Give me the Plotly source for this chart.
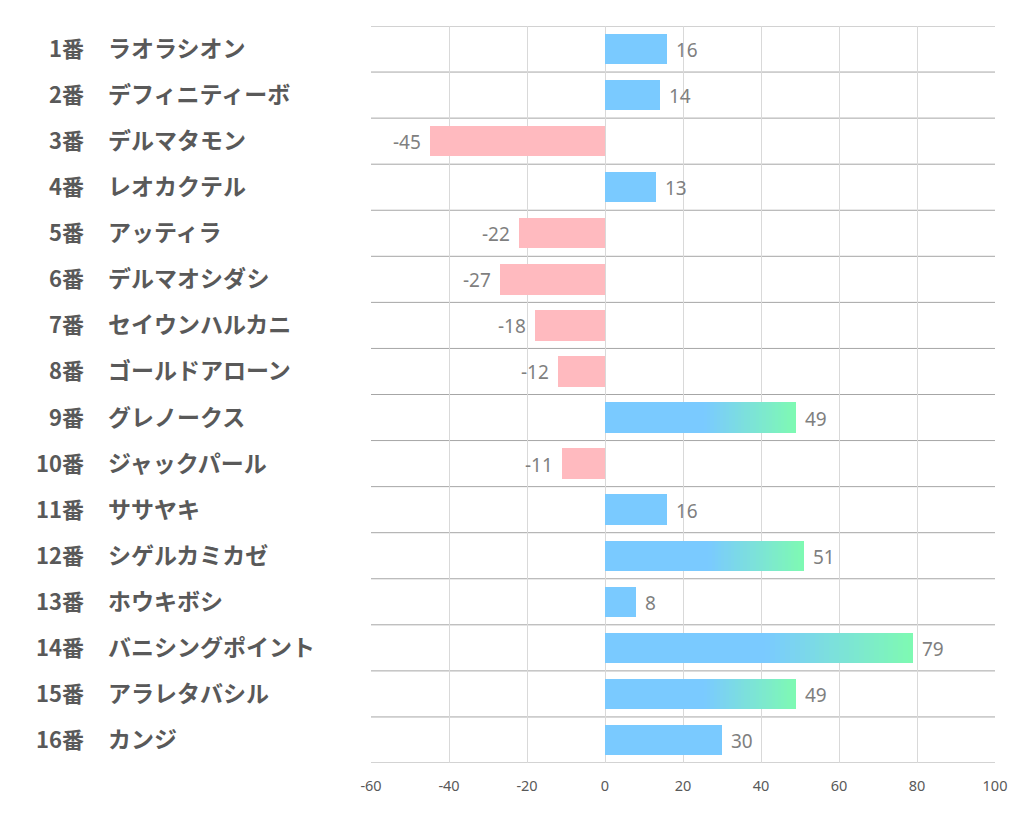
import plotly.graph_objects as go

numbers = ["1番", "2番", "3番", "4番", "5番", "6番", "7番", "8番",
           "9番", "10番", "11番", "12番", "13番", "14番", "15番", "16番"]
names = ["ラオラシオン", "デフィニティーボ", "デルマタモン", "レオカクテル", "アッティラ",
         "デルマオシダシ", "セイウンハルカニ", "ゴールドアローン", "グレノークス", "ジャックパール",
         "ササヤキ", "シゲルカミカゼ", "ホウキボシ", "バニシングポイント", "アラレタバシル", "カンジ"]
values = [16, 14, -45, 13, -22, -27, -18, -12, 49, -11, 16, 51, 8, 79, 49, 30]
x_ticks = [-60, -40, -20, 0, 20, 40, 60, 80, 100]
x_tick_text = ["-60", "-40", "-20", "0", "20", "40", "60", "80", "100"]

BLUE = (122, 202, 255)
GREEN = (126, 250, 178)
PINK = (255, 186, 191)
GRAD_THRESHOLD = 40
GRAD_START = 0.52
NSEG = 30
BAR_W = 0.66

def rgb(c):
    return "rgb(%d,%d,%d)" % c

fig = go.Figure()
ys = list(range(len(values)))

base_x = [v * GRAD_START if v >= GRAD_THRESHOLD else v for v in values]
fig.add_trace(go.Bar(
    x=base_x, y=ys, orientation="h", width=BAR_W,
    marker=dict(color=[rgb(BLUE) if v >= 0 else rgb(PINK) for v in values], line=dict(width=0)),
    hoverinfo="skip", showlegend=False))

for i, v in enumerate(values):
    if v < GRAD_THRESHOLD:
        continue
    start = v * GRAD_START
    seg = (v - start) / NSEG
    bases, widths, cols, yy = [], [], [], []
    for k in range(NSEG):
        t = (k + 0.5) / NSEG
        c = tuple(int(round(BLUE[j] + (GREEN[j] - BLUE[j]) * t)) for j in range(3))
        bases.append(start + k * seg)
        widths.append(seg * 1.05 if k < NSEG - 1 else seg)
        cols.append(rgb(c))
        yy.append(i)
    fig.add_trace(go.Bar(
        x=widths, base=bases, y=yy, orientation="h", width=BAR_W,
        marker=dict(color=cols, line=dict(width=0)),
        hoverinfo="skip", showlegend=False))

ann = []
for i, v in enumerate(values):
    ann.append(dict(x=v, y=i, xref="x", yref="y", text=str(v), showarrow=False,
                    xanchor="left" if v >= 0 else "right", yanchor="middle",
                    xshift=7 if v >= 0 else -7, yshift=-1,
                    font=dict(family="Noto Sans, DejaVu Sans", size=19, color="#7f7f7f")))
    ann.append(dict(x=-0.4567, y=i, xref="paper", yref="y", text="<b>%s</b>" % numbers[i],
                    showarrow=False, xanchor="right", yanchor="middle", yshift=2,
                    font=dict(family="Noto Sans CJK JP", size=22, color="#595959")))
    ann.append(dict(x=-0.4245, y=i, xref="paper", yref="y", text="<b>%s</b>" % names[i],
                    showarrow=False, xanchor="left", yanchor="middle", yshift=2,
                    font=dict(family="Noto Sans CJK JP", size=23, color="#595959")))

shapes = []
for k in range(len(values) + 1):
    shapes.append(dict(type="line", xref="paper", yref="y", x0=0, x1=1,
                       y0=k - 0.5, y1=k - 0.5, line=dict(color="#a6a6a6", width=1), layer="below"))

# page body has an 8px margin; size the figure so the plot lands at the same pixels
fig.update_layout(
    width=1014, height=826,
    margin=dict(l=363, r=27, t=18, b=71),
    plot_bgcolor="white", paper_bgcolor="white",
    barmode="overlay", bargap=0,
    annotations=ann, shapes=shapes,
    xaxis=dict(range=[-60, 100], tickvals=x_ticks, ticktext=x_tick_text,
               showgrid=True, gridcolor="#d9d9d9",
               gridwidth=1, zeroline=True, zerolinecolor="#d9d9d9", zerolinewidth=1,
               tickfont=dict(family="Noto Sans, DejaVu Sans", size=14.5, color="#595959"),
               ticks="", showline=False, fixedrange=True, ticklabelstandoff=12),
    yaxis=dict(range=[len(values) - 0.5, -0.5], showgrid=False, zeroline=False,
               showticklabels=False, ticks="", showline=False, fixedrange=True),
)

fig.write_html("out.html")
